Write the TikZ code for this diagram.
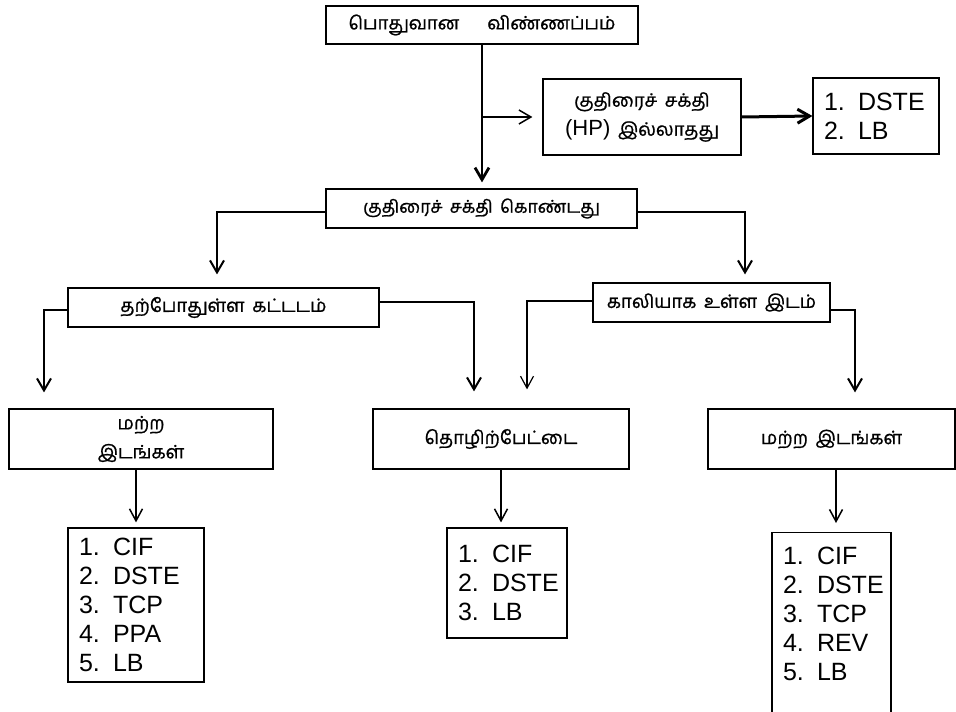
\documentclass[tikz,border=0pt]{standalone}
\usepackage{fontspec}
\setmainfont{Liberation Sans}
\newfontfamily\tamil[Script=Tamil,WordSpace=1.7,FakeBold=1]{Hind Madurai}
\usetikzlibrary{arrows.meta}
\usetikzlibrary{calc}

\begin{document}
\begin{tikzpicture}[x=0.5pt,y=-0.5pt,
  box/.style={draw,line width=0.6pt,inner sep=0pt,align=center,font=\tamil\fontsize{9.2}{14.5}\selectfont},
  listbox/.style={draw,line width=0.6pt,inner xsep=5.5pt,inner ysep=0pt,align=left,font=\fontsize{12.5}{14.5}\selectfont,text width=#1},
  link/.style={line width=1pt,-{Straight Barb[length=6pt,width=7pt]}},
  thinlink/.style={line width=0.6pt,-{Straight Barb[length=6pt,width=6.5pt]}}]
\useasboundingbox (0,0) rectangle (956,711);
\clip (0,0) rectangle (956,711);

% boxes
\node[box,minimum width=156pt,minimum height=19pt] (gen) at (482,25) {பொதுவான\hspace{14pt}விண்ணப்பம்};
\node[box,minimum width=99pt,minimum height=38pt] (noHP) at (642,117) {குதிரைச் சக்தி\\{\rmfamily\fontsize{11}{14.5}\selectfont (HP)} இல்லாதது};
\node[listbox=52pt,minimum height=38pt] (noHPlist) at (876,116) {\makebox[1.36em][l]{1.}DSTE\\\makebox[1.36em][l]{2.}LB};
\node[box,minimum width=155.5pt,minimum height=19.5pt,font=\tamil\fontsize{8.8}{14.5}\selectfont] (withHP) at (481.5,208.5) {குதிரைச் சக்தி கொண்டது};
\node[box,minimum width=155.5pt,minimum height=19.5pt] (curBld) at (223.5,307.5) {தற்போதுள்ள கட்டடம்};
\node[box,minimum width=118.5pt,minimum height=19.5pt] (vacant) at (711.5,302.5) {காலியாக உள்ள இடம்};
\node[box,minimum width=132pt,minimum height=30pt] (otherA) at (141,439) {மற்ற\\இடங்கள்};
\node[box,minimum width=128pt,minimum height=30pt] (estate) at (501,439) {தொழிற்பேட்டை};
\node[box,minimum width=123.5pt,minimum height=30pt] (otherB) at (831.5,439) {மற்ற இடங்கள்};

% lists
\node[listbox=57pt,minimum height=77pt] (listA) at (136,605) {\makebox[1.36em][l]{1.}CIF\\\makebox[1.36em][l]{2.}DSTE\\\makebox[1.36em][l]{3.}TCP\\\makebox[1.36em][l]{4.}PPA\\\makebox[1.36em][l]{5.}LB};
\node[listbox=49pt,minimum height=55pt] (listB) at (507,583) {\makebox[1.36em][l]{1.}CIF\\\makebox[1.36em][l]{2.}DSTE\\\makebox[1.36em][l]{3.}LB};
\node[listbox=48.5pt,anchor=north,inner ysep=7pt] (listC) at (831.5,532) {\makebox[1.36em][l]{1.}CIF\\\makebox[1.36em][l]{2.}DSTE\\\makebox[1.36em][l]{3.}TCP\\\makebox[1.36em][l]{4.}REV\\\makebox[1.36em][l]{5.}LB\\[30pt]\mbox{}};

% connectors
\coordinate (fork) at (gen.south |- noHP.west);
\draw[link,line width=1.4pt,shorten >=3pt] (gen.south) -- (gen.south |- withHP.north);
\draw[link,line width=0.75pt,shorten >=5pt] (fork) -- (noHP.west);
\draw[link,line width=1.5pt] (noHP.east) -- (noHPlist.west);
\draw[link,shorten >=6.5pt] ($(withHP.west)+(0,3.5)$) -| ($(curBld.north)+(-6.5,0)$);
\draw[link,shorten >=4pt] ($(withHP.east)+(0,3.5)$) -| ($(vacant.north)+(33.5,0)$);
\draw[link,shorten >=8pt] ($(curBld.west)+(0,2.5)$) -| ($(otherA.north)+(-97,0)$);
\draw[link,shorten >=8.5pt] ($(curBld.east)+(0,-5.5)$) -| ($(estate.north)+(-27,0)$);
\draw[thinlink,shorten >=9.5pt] ($(vacant.west)+(0,-1.5)$) -| ($(estate.north)+(26,0)$);
\draw[link,shorten >=8pt] ($(vacant.east)+(0,7.5)$) -| ($(otherB.north)+(23.5,0)$);
\draw[thinlink,line width=0.75pt,shorten >=2.5pt] (otherA.south -| listA.north) -- (listA.north);
\draw[thinlink,line width=0.75pt,shorten >=2.5pt] (estate.south) -- (estate.south |- listB.north);
\draw[thinlink,line width=0.75pt,shorten >=4.5pt] ($(otherB.south)+(4.5,0)$) -- ($(listC.north)+(4.5,0)$);

\end{tikzpicture}
\end{document}
